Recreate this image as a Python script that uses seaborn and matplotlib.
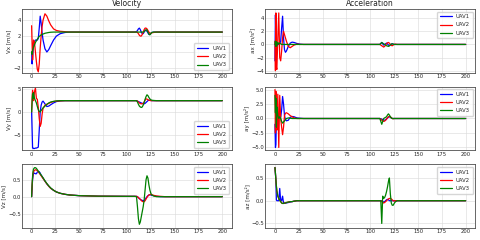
import matplotlib
matplotlib.use("Agg")
import matplotlib.pyplot as plt
import seaborn as sns

# common time axis [s]
t = [0, 0.5, 1, 1.5, 2, 3, 4, 5, 6, 7, 8, 9, 10, 11, 12, 14, 16, 18, 20, 23,
     26, 30, 35, 40, 50, 70, 100, 108, 110, 111, 112, 113, 114, 115, 116, 117,
     118, 119, 120, 121, 122, 123, 124, 125, 126, 128, 131, 135, 140, 160, 200]

labels = ["UAV1", "UAV2", "UAV3"]
colors = ["blue", "red", "green"]

# Velocity x
vx1 = [0, -1.5, -0.8, 0.2, 0.9, 1.3, 1.5, 1.5, 1.5, 1.7, 3.0, 4.5, 3.6, 2.4, 1.5, 0.4,
       0.0, 0.3, 0.8, 1.5, 2.0, 2.3, 2.45, 2.5, 2.5, 2.5, 2.5, 2.5, 2.55, 2.7, 2.9, 3.0,
       2.8, 2.5, 2.3, 2.3, 2.5, 2.7, 2.7, 2.6, 2.4, 2.2, 2.2, 2.35, 2.45, 2.5, 2.5, 2.5,
       2.5, 2.5, 2.5]
vx2 = [3.3, 1.0, -1.0, 0.5, 1.5, 1.2, 0.0, -1.2, -2.2, -2.5, -1.5, 0.5, 2.0, 3.2, 4.0,
       4.8, 4.5, 3.9, 3.4, 2.9, 2.7, 2.6, 2.55, 2.5, 2.5, 2.5, 2.5, 2.5, 2.5, 2.45, 2.3,
       2.1, 2.0, 2.0, 2.2, 2.5, 2.8, 3.0, 3.0, 2.9, 2.7, 2.5, 2.35, 2.35, 2.4, 2.45, 2.5,
       2.5, 2.5, 2.5, 2.5]
vx3 = [0, -0.3, 0.2, 0.4, 0.6, 0.9, 1.2, 1.4, 1.6, 1.8, 1.95, 2.05, 2.15, 2.2, 2.25,
       2.35, 2.4, 2.45, 2.48, 2.5, 2.5, 2.5, 2.5, 2.5, 2.5, 2.5, 2.5, 2.5, 2.5, 2.5, 2.5,
       2.5, 2.5, 2.5, 2.5, 2.5, 2.55, 2.7, 2.8, 2.75, 2.5, 2.25, 2.15, 2.3, 2.45, 2.5,
       2.5, 2.5, 2.5, 2.5, 2.5]

# Velocity y
vy1 = [0, -4, -8, -8, -8.1, -8.1, -8, -8, -7.9, -7.8, -4, 0, 1.5, 2.2, 2.4, 1.8, 1.2,
       1.3, 1.6, 2.0, 2.3, 2.45, 2.5, 2.5, 2.5, 2.5, 2.5, 2.5, 2.5, 2.4, 2.3, 2.2, 2.1,
       2.0, 1.9, 1.85, 1.8, 1.9, 2.1, 2.3, 2.5, 2.6, 2.6, 2.55, 2.5, 2.5, 2.5, 2.5, 2.5,
       2.5, 2.5]
vy2 = [0, 3, 4.8, 3.5, 2.5, 4.5, 5.3, 3.0, 2.8, 1.0, -1.5, -3.2, -2.5, -0.5, 0.8, 1.5,
       1.7, 1.9, 2.1, 2.3, 2.4, 2.45, 2.5, 2.5, 2.5, 2.5, 2.5, 2.5, 2.5, 2.4, 2.2, 2.0,
       1.85, 1.8, 1.8, 1.9, 2.2, 2.6, 2.9, 2.85, 2.7, 2.6, 2.55, 2.5, 2.5, 2.5, 2.5, 2.5,
       2.5, 2.5, 2.5]
vy3 = [0, 2, 4.0, 3.0, 4.3, 3.0, 2.5, 2.0, 1.2, 0.5, 0.1, 0.0, 0.3, 0.6, 0.9, 1.3,
       1.7, 2.0, 2.2, 2.35, 2.45, 2.5, 2.5, 2.5, 2.5, 2.5, 2.5, 2.5, 2.5, 2.2, 1.7, 1.3,
       1.1, 1.0, 1.1, 1.5, 2.1, 2.8, 3.4, 3.8, 3.6, 3.2, 2.9, 2.7, 2.6, 2.55, 2.5, 2.5,
       2.5, 2.5, 2.5]

# Velocity z
vz1 = [0, 0.25, 0.5, 0.62, 0.68, 0.7, 0.68, 0.68, 0.73, 0.75, 0.74, 0.7, 0.64, 0.6,
       0.55, 0.46, 0.38, 0.31, 0.25, 0.19, 0.14, 0.1, 0.07, 0.05, 0.03, 0.015, 0.01,
       0.01, 0.01, 0.0, -0.03, -0.06, -0.08, -0.1, -0.11, -0.12, -0.11, -0.08, -0.04,
       0.0, 0.03, 0.05, 0.06, 0.05, 0.04, 0.03, 0.01, 0.0, 0.0, 0.0, 0.0]
vz2 = [0, 0.3, 0.55, 0.68, 0.74, 0.78, 0.8, 0.79, 0.77, 0.74, 0.7, 0.66, 0.62, 0.58,
       0.54, 0.46, 0.38, 0.31, 0.25, 0.19, 0.14, 0.1, 0.07, 0.05, 0.03, 0.015, 0.01,
       0.01, 0.01, 0.0, -0.03, -0.05, -0.08, -0.11, -0.14, -0.15, -0.15, -0.12, -0.07,
       -0.02, 0.02, 0.05, 0.06, 0.07, 0.06, 0.04, 0.02, 0.01, 0.0, 0.0, 0.0]
vz3 = [0, 0.35, 0.6, 0.75, 0.82, 0.86, 0.86, 0.84, 0.8, 0.76, 0.72, 0.68, 0.64, 0.6,
       0.56, 0.47, 0.39, 0.32, 0.26, 0.19, 0.14, 0.1, 0.07, 0.05, 0.03, 0.015, 0.01,
       0.01, 0.0, -0.3, -0.65, -0.82, -0.75, -0.6, -0.45, -0.3, -0.1, 0.2, 0.5, 0.62,
       0.55, 0.35, 0.2, 0.1, 0.05, 0.02, 0.0, 0.0, 0.0, 0.0, 0.0]

# Acceleration x
ax1 = [-2.5, 4.5, 0.5, 0.2, 0.1, 0.0, 0.0, 0.1, 0.5, 2.5, 4.3, 1.0, -0.8, -1.2, -1.0,
       -0.3, 0.2, 0.35, 0.3, 0.15, 0.05, 0.0, 0.0, 0.0, 0.0, 0.0, 0.0, 0.0, 0.0, 0.15,
       0.3, 0.1, -0.1, 0.0, 0.1, 0.2, 0.1, -0.1, -0.2, -0.1, 0.05, 0.1, 0.05, 0.0, 0.0,
       0.0, 0.0, 0.0, 0.0, 0.0, 0.0]
ax2 = [0.5, -4.0, 4.8, -3.5, -3.8, 1.0, 4.8, -2.0, -2.5, -1.0, 1.0, 2.0, 1.5, 1.0, 0.5,
       -0.3, -0.5, -0.3, -0.1, 0.05, 0.0, 0.0, 0.0, 0.0, 0.0, 0.0, 0.0, 0.0, 0.0, -0.1,
       -0.2, -0.3, -0.4, -0.3, -0.1, 0.1, 0.25, 0.3, 0.2, 0.0, -0.15, -0.2, -0.1, 0.0,
       0.05, 0.0, 0.0, 0.0, 0.0, 0.0, 0.0]
ax3 = [0, 0.5, -0.3, 0.4, -0.2, 0.3, 0.1, 0.2, 0.1, 0.0, 0.0, 0.0, 0.0, 0.0, 0.0, 0.0,
       0.0, 0.0, 0.0, 0.0, 0.0, 0.0, 0.0, 0.0, 0.0, 0.0, 0.0, 0.0, 0.0, 0.15, 0.3, 0.2,
       0.1, 0.0, -0.1, -0.2, -0.25, -0.3, -0.2, -0.05, 0.05, 0.1, 0.05, 0.0, 0.0, 0.0,
       0.0, 0.0, 0.0, 0.0, 0.0]

# Acceleration y
ay1 = [-1.0, -5.0, -4.5, 0.5, 0.3, 0.4, 0.2, 0.3, 0.2, 1.5, 3.8, 2.5, 0.5, -0.2, -0.4,
       -0.3, 0.2, 0.35, 0.3, 0.1, 0.05, 0.0, 0.0, 0.0, 0.0, 0.0, 0.0, 0.0, 0.0, -0.05,
       -0.1, -0.2, -0.25, -0.3, -0.25, -0.1, 0.1, 0.25, 0.3, 0.2, 0.1, 0.0, 0.0, 0.0,
       0.0, 0.0, 0.0, 0.0, 0.0, 0.0, 0.0]
ay2 = [5.0, -2.5, 4.7, 0.5, -2.0, 4.2, -5.0, 4.0, 0.0, -1.5, -2.8, -1.5, 0.5, 0.9, 1.0,
       0.8, 0.5, 0.3, 0.1, 0.0, 0.0, 0.0, 0.0, 0.0, 0.0, 0.0, 0.0, 0.0, 0.0, -0.1, -0.3,
       -0.4, -0.5, -0.45, -0.3, -0.1, 0.1, 0.3, 0.4, 0.3, 0.15, 0.0, -0.05, 0.0, 0.0,
       0.0, 0.0, 0.0, 0.0, 0.0, 0.0]
ay3 = [4.0, 1.0, 3.5, -1.5, 2.0, 0.5, 0.0, 0.3, 0.0, -0.5, -0.8, -0.6, -0.4, -0.2, 0.0,
       0.1, 0.05, 0.0, 0.0, 0.0, 0.0, 0.0, 0.0, 0.0, 0.0, 0.0, 0.0, 0.0, 0.0, -0.5, -1.0,
       -0.5, 0.0, 0.1, 0.2, 0.3, 0.6, 0.8, 0.6, 0.3, 0.1, 0.0, 0.0, 0.0, 0.0, 0.0, 0.0,
       0.0, 0.0, 0.0, 0.0]

# Acceleration z
az1 = [0.73, 0.6, 0.45, 0.02, 0.0, 0.0, 0.0, 0.27, 0.0, 0.0, 0.1, -0.05, -0.06, -0.05,
       -0.05, -0.04, -0.03, -0.02, -0.01, 0.0, 0.0, 0.0, 0.0, 0.0, 0.0, 0.0, 0.0, 0.0,
       0.0, 0.0, 0.0, -0.02, -0.03, -0.02, 0.0, 0.02, 0.03, 0.02, 0.0, 0.0, 0.0, 0.0,
       0.0, 0.0, 0.0, 0.0, 0.0, 0.0, 0.0, 0.0, 0.0]
az2 = [0.73, 0.6, 0.45, 0.32, 0.22, 0.1, 0.05, 0.01, -0.02, -0.05, -0.06, -0.06, -0.05,
       -0.05, -0.04, -0.03, -0.02, -0.02, -0.01, 0.0, 0.0, 0.0, 0.0, 0.0, 0.0, 0.0, 0.0,
       0.0, 0.0, 0.0, -0.02, -0.04, -0.05, -0.04, -0.02, 0.0, 0.02, 0.04, 0.05, 0.05,
       0.04, 0.02, 0.0, -0.01, 0.0, 0.0, 0.0, 0.0, 0.0, 0.0, 0.0]
az3 = [0.73, 0.6, 0.45, 0.32, 0.22, 0.1, 0.05, 0.01, -0.02, -0.05, -0.06, -0.06, -0.05,
       -0.05, -0.04, -0.03, -0.02, -0.02, -0.01, 0.0, 0.0, 0.0, 0.0, 0.0, 0.0, 0.0, 0.0,
       0.0, 0.0, 0.0, -0.5, 0.1, 0.05, 0.07, 0.12, 0.2, 0.3, 0.42, 0.5, 0.15, -0.05,
       -0.1, -0.1, -0.06, -0.03, 0.0, 0.0, 0.0, 0.0, 0.0, 0.0]

# y tick labels as printed on each panel
vx_ticks = [-2, 0, 2, 4]
ax_ticks = [-4, -2, 0, 2, 4]
vy_ticks = [-5, 0, 5]
ay_ticks = [-5.0, -2.5, 0.0, 2.5, 5.0]
vz_ticks = [-0.5, 0.0, 0.5]
az_ticks = [-0.5, 0.0, 0.5]

panels = [
    ("Vx [m/s]", [vx1, vx2, vx3], "lower right", vx_ticks, (-2.6, 5.4)),
    ("ax [m/s²]", [ax1, ax2, ax3], "upper right", ax_ticks, (-4.3, 5.4)),
    ("Vy [m/s]", [vy1, vy2, vy3], "lower right", vy_ticks, (-8.5, 5.6)),
    ("ay [m/s²]", [ay1, ay2, ay3], "upper right", ay_ticks, (-5.5, 5.5)),
    ("Vz [m/s]", [vz1, vz2, vz3], "upper right", vz_ticks, (-0.93, 0.96)),
    ("az [m/s²]", [az1, az2, az3], "upper right", az_ticks, (-0.6, 0.8)),
]

sns.set_style("whitegrid", {"axes.edgecolor": "0.3", "grid.color": "0.85"})
plt.rcParams["font.family"] = ["DejaVu Sans"]

fig, axes = plt.subplots(3, 2, figsize=(4.8, 2.4), dpi=100)
plt.subplots_adjust(left=0.046, right=0.99, bottom=0.05, top=0.9625,
                    wspace=0.16, hspace=0.22)

for ax, (ylab, series, loc, yt, ylim) in zip(axes.flat, panels):
    for y, c, lab in zip(series, colors, labels):
        sns.lineplot(x=t, y=y, ax=ax, color=c, label=lab, linewidth=0.9)
    ax.set_ylabel(ylab, fontsize=4, labelpad=1)
    ax.tick_params(labelsize=3.8, pad=1, length=0)
    ax.set_xticks([0, 25, 50, 75, 100, 125, 150, 175, 200])
    ax.set_yticks(yt)
    ax.set_ylim(ylim)
    ax.grid(linewidth=0.4)
    for s in ax.spines.values():
        s.set_linewidth(0.6)
    ax.legend(loc=loc, fontsize=3.8, frameon=True, handlelength=2.2,
              borderpad=0.5, labelspacing=0.6)

axes[0, 0].set_title("Velocity", fontsize=5.5, pad=2)
axes[0, 1].set_title("Acceleration", fontsize=5.5, pad=2)

plt.savefig("out.png", dpi=100)
